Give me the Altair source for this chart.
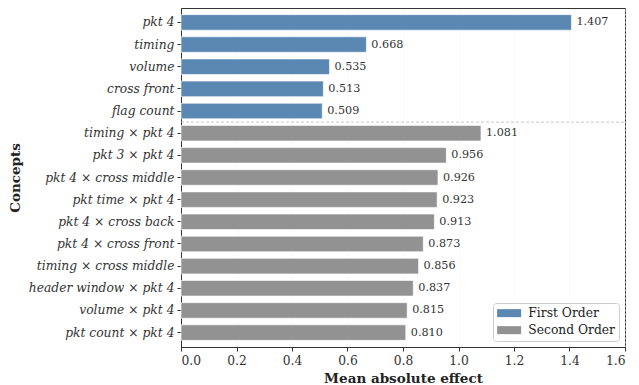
import altair as alt
import pandas as pd

concepts = ["pkt 4", "timing", "volume", "cross front", "flag count",
            "timing × pkt 4", "pkt 3 × pkt 4", "pkt 4 × cross middle",
            "pkt time × pkt 4", "pkt 4 × cross back", "pkt 4 × cross front",
            "timing × cross middle", "header window × pkt 4",
            "volume × pkt 4", "pkt count × pkt 4"]
effects = [1.407, 0.668, 0.535, 0.513, 0.509,
           1.081, 0.956, 0.926, 0.923, 0.913, 0.873, 0.856, 0.837, 0.815, 0.810]
orders = ["First Order"] * 5 + ["Second Order"] * 10
x_ticks = [0.0, 0.2, 0.4, 0.6, 0.8, 1.0, 1.2, 1.4, 1.6]

df = pd.DataFrame({"concept": concepts, "effect": effects, "order": orders})
df["label"] = df["effect"].map(lambda v: f"{v:.3f}")
sep = pd.DataFrame({"concept": [concepts[4]]})

W, H = 444, 339
n = len(concepts)
pin, pout = 0.3, 0.3
step = H / (n - pin + 2 * pout)

FONT = "DejaVu Serif"

y_enc = alt.Y("concept:N", sort=concepts,
              scale=alt.Scale(paddingInner=pin, paddingOuter=pout),
              axis=alt.Axis(title="Concepts", labelFont=FONT,
                            labelFontStyle="italic",
                            labelFontSize=12.3, labelColor="#333333",
                            titleFont=FONT, titleFontWeight="bold",
                            titleFontSize=13.5, titleColor="#222222",
                            titlePadding=6, tickSize=4, tickColor="#333333",
                            domainColor="#333333", grid=False, labelPadding=3))
x_enc = alt.X("effect:Q", scale=alt.Scale(domain=[0, 1.6], nice=False),
              axis=alt.Axis(title="Mean absolute effect", values=x_ticks,
                            format=".1f", labelFont=FONT, labelFontSize=12.3,
                            labelColor="#333333", titleFont=FONT,
                            titleFontWeight="bold", titleFontSize=13.5,
                            titleColor="#222222", titlePadding=5,
                            tickSize=4, tickColor="#333333",
                            domainColor="#333333", grid=True,
                            gridColor="#ececec", gridDash=[2, 2],
                            gridWidth=0.6, labelPadding=3))

bars = alt.Chart(df).mark_bar(stroke="white", strokeWidth=1,
                              strokeOpacity=0.6).encode(
    y=y_enc, x=x_enc,
    color=alt.Color("order:N",
                    scale=alt.Scale(domain=["First Order", "Second Order"],
                                    range=["#5b87b3", "#929292"]),
                    legend=alt.Legend(title=None, orient="bottom-right",
                                      offset=6, labelFont=FONT,
                                      labelFontSize=12.3,
                                      labelColor="#222222",
                                      symbolType="M-3,-1H3V1H-3Z",
                                      symbolSize=64, symbolStrokeWidth=0,
                                      symbolOpacity=1, symbolOffset=6,
                                      fillColor="white", strokeColor="#cccccc",
                                      cornerRadius=3, padding=4,
                                      rowPadding=4, labelOffset=13))
)

text = alt.Chart(df).mark_text(align="left", baseline="middle", dx=5,
                               font=FONT, fontSize=11.2,
                               color="#333333").encode(
    y=alt.Y("concept:N", sort=concepts),
    x="effect:Q",
    text="label:N",
)

rule = alt.Chart(sep).mark_rule(color="#bbbbbb", strokeDash=[3, 2],
                                strokeWidth=0.8, yOffset=step / 2).encode(
    y=alt.Y("concept:N", sort=concepts),
    x=alt.value(0), x2=alt.value(W),
)

chart = alt.layer(bars, rule, text).properties(
    width=W, height=H,
    padding={"left": 0, "top": 0, "right": 2, "bottom": 0},
).configure(font=FONT).configure_view(stroke="#333333", strokeWidth=1)

chart.save("out.html", embed_options={"renderer": "svg", "actions": False})
